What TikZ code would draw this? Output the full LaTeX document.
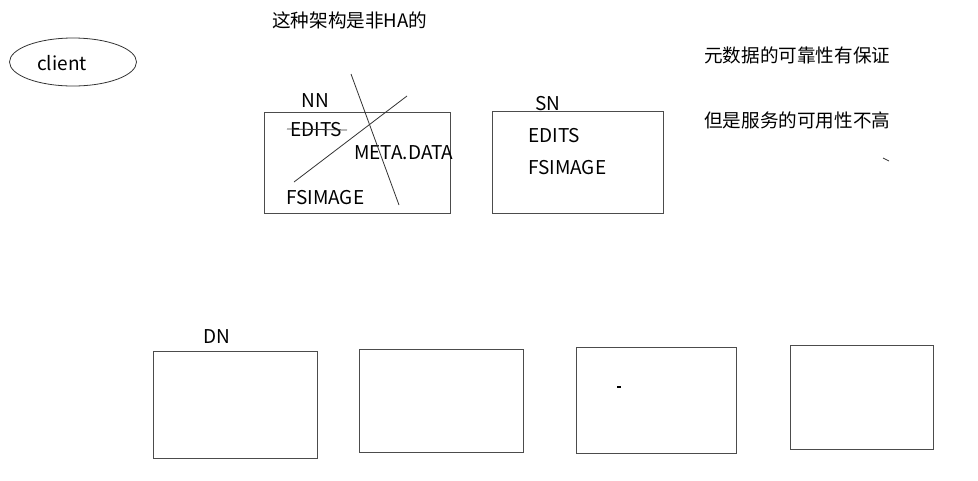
\documentclass[tikz,border=0pt]{standalone}
\usepackage{fontspec}
\usetikzlibrary{shapes.geometric}
\setmainfont{Noto Sans CJK SC}
\begin{document}
\begin{tikzpicture}[x=1pt,y=-1pt,
  box/.style={draw=black!70,line width=1pt},
  lbl/.style={inner sep=0pt,font=\fontsize{19}{21}\selectfont},
  cjk/.style={inner sep=0pt,font=\fontsize{18.6}{20}\selectfont,anchor=west},
  pen/.style={draw=black!80,line width=0.8pt}]
\useasboundingbox (0,0) rectangle (978,480);
% client
\node[draw=black!80,line width=0.8pt,ellipse,minimum width=127pt,minimum height=48pt,inner sep=0pt] (client) at (73,62) {};
\node[lbl] (clienttxt) at (62,63) {client};
% title
\node[cjk] (title) at (272,20) {这种架构是非HA的};
% NN
\draw[box] (264,112) rectangle (450,213);
\node[lbl] (nnlbl) at (315,101) {NN};
\node[lbl,anchor=west] (nnedits) at (290,130) {EDITS};
\node[lbl,anchor=west] (nnmeta) at (354,153) {META.DATA};
\node[lbl,anchor=west] (nnfs) at (286,198) {FSIMAGE};
\coordinate (s1) at (287,129);
\coordinate (s2) at (347,130);
\draw[pen] (s1) -- (s2);
\coordinate (a1) at (351,74);
\coordinate (a2) at (399,205);
\draw[pen] (a1) -- (a2);
\coordinate (b1) at (407,96);
\coordinate (b2) at (294,182);
\draw[pen] (b1) -- (b2);
% SN
\draw[box] (492,111) rectangle (663,213);
\node[lbl] (snlbl) at (548,104) {SN};
\node[lbl,anchor=west] (snedits) at (528,136) {EDITS};
\node[lbl,anchor=west] (snfs) at (528,168) {FSIMAGE};
% notes
\node[cjk] (note1) at (704,55) {元数据的可靠性有保证};
\node[cjk] (note2) at (704,120) {但是服务的可用性不高};
\coordinate (t1) at (883,158);
\coordinate (t2) at (889,161);
\draw[pen] (t1) -- (t2);
% DN
\node[lbl] (dnlbl) at (217,337) {DN};
\draw[box] (153,351) rectangle (317,458);
\draw[box] (359,349) rectangle (523,452);
\draw[box] (576,347) rectangle (736,453);
\draw[box] (790,345) rectangle (933,449);
\coordinate (d1) at (617,387);
\coordinate (d2) at (621,387);
\draw[black,line width=1.3pt] (d1) -- (d2);
\end{tikzpicture}
\end{document}
